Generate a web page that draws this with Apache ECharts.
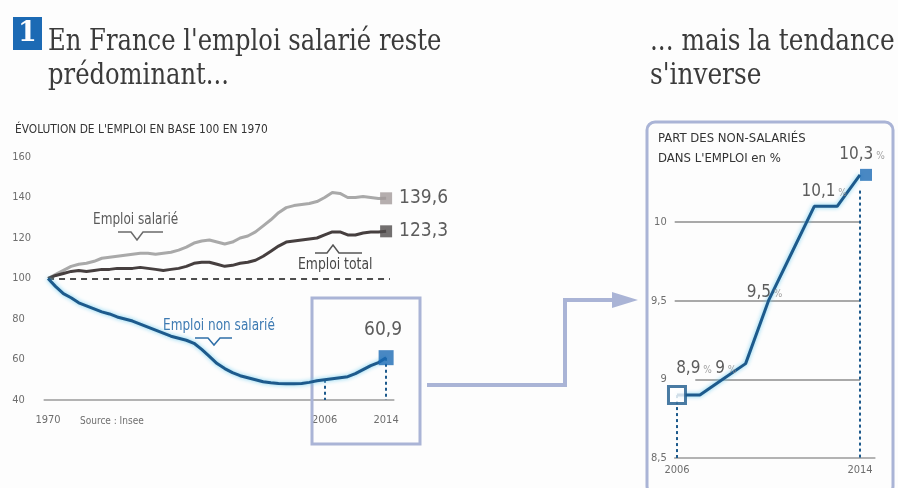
<!DOCTYPE html>
<html>
<head>
<meta charset="utf-8">
<script src="https://cdn.jsdelivr.net/npm/echarts@6/dist/echarts.min.js"></script>
<style>
  html, body { margin: 0; padding: 0; background: #fdfdfd; }
  #chart { width: 898px; height: 488px; }
</style>
</head>
<body>
<div id="chart"></div>
<script>
// Emploi en base 100 en 1970
const years = [1970, 1971, 1972, 1973, 1974, 1975, 1976, 1977, 1978, 1979,
               1980, 1981, 1982, 1983, 1984, 1985, 1986, 1987, 1988, 1989,
               1990, 1991, 1992, 1993, 1994, 1995, 1996, 1997, 1998, 1999,
               2000, 2001, 2002, 2003, 2004, 2005, 2006, 2007, 2008, 2009,
               2010, 2011, 2012, 2013, 2014];
const emploiSalarie = [100, 102, 104, 106, 107, 107.5, 108.5, 110, 110.5, 111,
                       111.5, 112, 112.5, 112.5, 112, 112.5, 113, 114, 115.5, 117.5,
                       118.5, 119, 118, 117, 118, 120, 121, 123, 126, 129,
                       132.5, 135, 136, 136.5, 137, 138, 140, 142.5, 142, 140,
                       140, 140.5, 140, 139.5, 139.6];
const emploiTotal = [100, 101.5, 102.5, 103.5, 104, 103.5, 104, 104.5, 104.5, 105,
                     105, 105, 105.5, 105, 104.5, 104, 104.5, 105, 106, 107.5,
                     108, 108, 107, 106, 106.5, 107.5, 108, 109, 111, 113.5,
                     116, 118, 118.5, 119, 119.5, 120, 121.5, 123, 123, 121.5,
                     121.5, 122.5, 123, 123, 123.3];
const emploiNonSalarie = [100, 96, 92.5, 90.5, 88, 86.5, 85, 83.5, 82.5, 81,
                          80, 79, 77.5, 76, 74.5, 73, 71.5, 70.5, 69.5, 68,
                          65, 61.5, 58, 55.5, 53.5, 52, 51, 50, 49, 48.5,
                          48.2, 48, 48, 48.2, 48.7, 49.5, 50, 50.5, 51, 51.5,
                          53, 55, 57, 58.5, 60.9];
const indexTicks = [40, 60, 80, 100, 120, 140, 160];
const indexYearTicks = [1970, 2006, 2014];

// Part des non-salariés dans l'emploi, en %
const partYears = [2006, 2007, 2008, 2009, 2010, 2011, 2012, 2013, 2014];
const partNonSalaries = [8.9, 8.9, 9.0, 9.1, 9.5, 9.8, 10.1, 10.1, 10.3];
const partTicks = [8.5, 9, 9.5, 10];
const partYearTicks = [2006, 2014];
const partLabelledYears = [2006, 2008, 2010, 2013, 2014];

const NARROW = "'Liberation Sans Narrow', 'DejaVu Sans Condensed', 'Roboto Condensed', 'Liberation Sans', sans-serif";
const SERIF = "'DejaVu Serif Condensed', 'DejaVu Serif', serif";
const FRAME = '#aab4d6';
const BLUE_LINE = '#1d5a8c';
const BLUE_BOX = '#1c6ab4';

const comma = v => String(v).replace('.', ',');
const zip = (xs, ys) => xs.map((x, i) => [x, ys[i]]);
const last = arr => arr[arr.length - 1];

// label placement around the labelled points of the share curve
const partLabelOffset = { 2006: [17, -12], 2008: [3, 4], 2010: [-4, 6], 2013: [-13, 0], 2014: [2, -6] };

const chart = echarts.init(document.getElementById('chart'), null, { renderer: 'canvas' });

const smallAxisLabel = { color: '#6e6e6e', fontSize: 11, fontFamily: NARROW };

const option = {
  backgroundColor: '#fdfdfd',
  animation: false,
  grid: [
    { left: 44.2, top: 157, width: 349.6, height: 243 },
    { left: 674.7, top: 143.4, width: 200.2, height: 314.6 }
  ],
  xAxis: [
    {
      gridIndex: 0, type: 'value', min: 1969.5, max: 2015,
      axisLine: { show: true, lineStyle: { color: '#9a9a9a', width: 1.5 } },
      axisTick: { show: false }, splitLine: { show: false },
      axisLabel: Object.assign({ customValues: indexYearTicks, margin: 15, formatter: v => String(v) }, smallAxisLabel)
    },
    {
      gridIndex: 1, type: 'value', min: 2005.9, max: 2014.65,
      axisLine: { show: true, lineStyle: { color: '#9a9a9a', width: 1.5 } },
      axisTick: { show: false }, splitLine: { show: false },
      axisLabel: Object.assign({ customValues: partYearTicks, margin: 7, formatter: v => String(v) }, smallAxisLabel)
    }
  ],
  yAxis: [
    {
      gridIndex: 0, type: 'value', min: 40, max: 160, interval: 20,
      axisLine: { show: false }, axisTick: { show: false }, splitLine: { show: false },
      axisLabel: Object.assign({ customValues: indexTicks, align: 'left', margin: 32 }, smallAxisLabel)
    },
    {
      gridIndex: 1, type: 'value', min: 8.5, max: 10.5,
      axisLine: { show: false }, axisTick: { show: false }, splitLine: { show: false },
      axisLabel: Object.assign({ customValues: partTicks, align: 'right', margin: 8, formatter: comma }, smallAxisLabel)
    }
  ],
  series: [
    {
      name: 'Emploi salarié', type: 'line', xAxisIndex: 0, yAxisIndex: 0,
      data: zip(years, emploiSalarie), showSymbol: false, z: 3,
      lineStyle: { color: '#a9a9a9', width: 3 },
      markLine: {
        silent: true, symbol: 'none', label: { show: false },
        lineStyle: { color: '#4d4d4d', type: [6, 5], width: 2 },
        data: [[{ coord: [1970, 100] }, { coord: [2014.5, 100] }]]
      }
    },
    {
      name: 'Emploi total', type: 'line', xAxisIndex: 0, yAxisIndex: 0,
      data: zip(years, emploiTotal), showSymbol: false, z: 4,
      lineStyle: { color: '#463f3f', width: 3 }
    },
    {
      name: 'Emploi non salarié', type: 'line', xAxisIndex: 0, yAxisIndex: 0,
      data: zip(years, emploiNonSalarie), showSymbol: false, z: 5,
      lineStyle: { color: BLUE_LINE, width: 3, shadowColor: 'rgba(110,205,240,0.95)', shadowBlur: 4 },
      markLine: {
        silent: true, symbol: 'none', label: { show: false },
        lineStyle: { color: BLUE_LINE, type: [3, 3], width: 2 },
        data: [
          [{ coord: [2006, emploiNonSalarie[years.indexOf(2006)]] }, { coord: [2006, 40] }],
          [{ coord: [2014, last(emploiNonSalarie)] }, { coord: [2014, 40] }]
        ]
      }
    },
    {
      name: 'fin salarié', type: 'scatter', xAxisIndex: 0, yAxisIndex: 0, z: 6,
      data: [[last(years), last(emploiSalarie)]], symbol: 'rect', symbolSize: 12,
      itemStyle: { color: '#a39a9a' },
      label: { show: true, position: 'right', distance: 7, formatter: p => comma(p.value[1]),
               color: '#333', fontSize: 19, fontFamily: NARROW }
    },
    {
      name: 'fin total', type: 'scatter', xAxisIndex: 0, yAxisIndex: 0, z: 6,
      data: [[last(years), last(emploiTotal)]], symbol: 'rect', symbolSize: 12,
      itemStyle: { color: '#4f4b4b' },
      label: { show: true, position: 'right', distance: 7, formatter: p => comma(p.value[1]),
               color: '#333', fontSize: 19, fontFamily: NARROW }
    },
    {
      name: 'fin non salarié', type: 'scatter', xAxisIndex: 0, yAxisIndex: 0, z: 6,
      data: [[last(years), last(emploiNonSalarie)]], symbol: 'rect', symbolSize: 15,
      itemStyle: { color: BLUE_BOX },
      label: { show: true, position: 'top', offset: [-3, -6], formatter: p => comma(p.value[1]),
               color: '#333', fontSize: 19, fontFamily: NARROW }
    },
    {
      name: 'Part des non-salariés', type: 'line', xAxisIndex: 1, yAxisIndex: 1,
      data: zip(partYears, partNonSalaries), showSymbol: false, z: 5,
      lineStyle: { color: BLUE_LINE, width: 3, shadowColor: 'rgba(110,205,240,0.95)', shadowBlur: 4 },
      markLine: {
        silent: true, symbol: 'none', label: { show: false },
        lineStyle: { color: '#8c8c8c', type: 'solid', width: 1.5 },
        data: partTicks.filter(t => t > partTicks[0]).map(t => [
          { coord: [t === 9 ? 2006.8 : 2005.9, t] }, { coord: [2014, t] }
        ]).concat([
          [{ coord: [2006, partNonSalaries[0]], lineStyle: { color: BLUE_LINE, type: [3, 3], width: 2 } },
           { coord: [2006, partTicks[0]] }],
          [{ coord: [2014, last(partNonSalaries) - 0.1], lineStyle: { color: BLUE_LINE, type: [3, 3], width: 2 } },
           { coord: [2014, partTicks[0]] }]
        ])
      }
    },
    {
      name: 'étiquettes part', type: 'scatter', xAxisIndex: 1, yAxisIndex: 1, z: 7,
      symbolSize: 2, itemStyle: { color: 'transparent' },
      data: partLabelledYears.map(y => ({
        value: [y, partNonSalaries[partYears.indexOf(y)]],
        label: { offset: partLabelOffset[y] }
      })),
      label: {
        show: true, position: 'top',
        formatter: p => '{v|' + comma(p.value[1]) + '}{p| %}',
        rich: {
          v: { color: '#333', fontSize: 17, fontFamily: NARROW },
          p: { color: '#8a8a8a', fontSize: 10, fontFamily: NARROW, padding: [4, 0, 0, 0] }
        }
      }
    },
    {
      name: 'début part', type: 'scatter', xAxisIndex: 1, yAxisIndex: 1, z: 8,
      data: [[partYears[0], partNonSalaries[0]]], symbol: 'rect', symbolSize: 17,
      itemStyle: { color: '#ffffff', borderColor: BLUE_LINE, borderWidth: 3 }
    },
    {
      name: 'fin part', type: 'scatter', xAxisIndex: 1, yAxisIndex: 1, z: 8,
      data: [[last(partYears), last(partNonSalaries)]], symbol: 'rect', symbolSize: 12,
      symbolOffset: [6, 0], itemStyle: { color: BLUE_BOX }
    }
  ],
  graphic: [
    // numéro du graphique
    { type: 'rect', shape: { x: 13, y: 17, width: 29, height: 33 }, style: { fill: BLUE_BOX } },
    { type: 'text', x: 27.5, y: 34, style: { text: '1', fill: '#fff', font: "bold 27px 'DejaVu Serif', serif", align: 'center', verticalAlign: 'middle' } },
    // titres
    { type: 'text', x: 48, y: 42, scaleX: 0.93, style: { text: "En France l'emploi salarié reste", fill: '#3b3b3b', font: '29px ' + SERIF, verticalAlign: 'middle' } },
    { type: 'text', x: 48, y: 76, scaleX: 0.93, style: { text: 'prédominant...', fill: '#3b3b3b', font: '29px ' + SERIF, verticalAlign: 'middle' } },
    { type: 'text', x: 650, y: 42, scaleX: 0.95, style: { text: '... mais la tendance', fill: '#3b3b3b', font: '29px ' + SERIF, verticalAlign: 'middle' } },
    { type: 'text', x: 650, y: 76, scaleX: 0.95, style: { text: "s'inverse", fill: '#3b3b3b', font: '29px ' + SERIF, verticalAlign: 'middle' } },
    { type: 'text', x: 15, y: 130, scaleX: 0.91, style: { text: "ÉVOLUTION DE L'EMPLOI EN BASE 100 EN 1970", fill: '#333', font: '13px ' + NARROW, verticalAlign: 'middle' } },
    { type: 'text', x: 658, y: 139, style: { text: 'PART DES NON-SALARIÉS', fill: '#333', font: '13px ' + NARROW, verticalAlign: 'middle' } },
    { type: 'text', x: 658, y: 159, style: { text: "DANS L'EMPLOI en %", fill: '#333', font: '13px ' + NARROW, verticalAlign: 'middle' } },
    { type: 'text', x: 80, y: 421, style: { text: 'Source : Insee', fill: '#6e6e6e', font: '10px ' + NARROW, verticalAlign: 'middle' } },
    // cadres et flèche
    { type: 'rect', z: 1, shape: { x: 312, y: 298, width: 108, height: 146 }, style: { fill: null, stroke: FRAME, lineWidth: 3 } },
    { type: 'rect', z: 1, shape: { x: 647, y: 122, width: 246, height: 372, r: 8 }, style: { fill: null, stroke: FRAME, lineWidth: 3 } },
    { type: 'polyline', shape: { points: [[427, 385], [565, 385], [565, 300], [616, 300]] }, style: { stroke: FRAME, lineWidth: 4, fill: null } },
    { type: 'polygon', shape: { points: [[612, 292], [638, 300], [612, 308]] }, style: { fill: FRAME } },
    // annotations des courbes
    { type: 'text', x: 93, y: 220, scaleX: 0.84, style: { text: 'Emploi salarié', fill: '#5a5a5a', font: '16px ' + NARROW, verticalAlign: 'middle' } },
    { type: 'polyline', shape: { points: [[118, 232], [131, 232], [137, 240], [143, 232], [163, 232]] }, style: { stroke: '#6a6a6a', lineWidth: 1.5, fill: null } },
    { type: 'text', x: 298, y: 265, scaleX: 0.86, style: { text: 'Emploi total', fill: '#474747', font: '16px ' + NARROW, verticalAlign: 'middle' } },
    { type: 'polyline', shape: { points: [[315, 253], [327, 253], [333, 245], [339, 253], [362, 253]] }, style: { stroke: '#555', lineWidth: 1.5, fill: null } },
    { type: 'text', x: 163, y: 326, scaleX: 0.84, style: { text: 'Emploi non salarié', fill: '#3d7ab2', font: '16px ' + NARROW, verticalAlign: 'middle' } },
    { type: 'polyline', shape: { points: [[195, 338], [208, 338], [214, 345], [220, 338], [232, 338]] }, style: { stroke: '#2f6fa8', lineWidth: 1.5, fill: null } }
  ]
};

chart.setOption(option);
</script>
</body>
</html>
